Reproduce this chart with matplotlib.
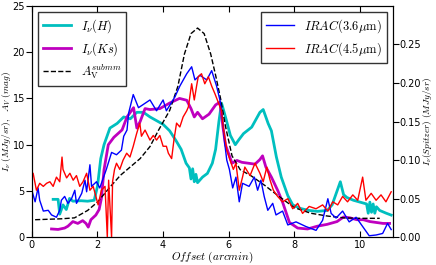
import numpy as np
import matplotlib
matplotlib.use('Agg')
import matplotlib.pyplot as plt

plt.rcParams['mathtext.fontset'] = 'cm'
plt.rcParams['font.family'] = 'DejaVu Sans'
plt.rcParams['font.size'] = 7

# I_nu(H), left axis (MJy/sr)
h_x = [0.65, 0.8, 0.85, 0.95, 1.05, 1.15, 1.25, 1.5, 1.7, 1.9, 2.0, 2.1, 2.2, 2.38, 2.6, 2.8,
       3.0, 3.2, 3.4, 3.6, 3.8, 4.0, 4.2, 4.4, 4.55, 4.7, 4.8, 4.85, 4.9, 4.95, 5.0, 5.05,
       5.2, 5.35, 5.5, 5.6, 5.7, 5.78, 5.9, 6.05, 6.2, 6.3, 6.45, 6.7, 6.95, 7.05, 7.2,
       7.3, 7.45, 7.6, 7.8, 7.95, 8.2, 8.45, 8.7, 9.0, 9.15, 9.3, 9.4, 9.5, 9.6, 9.8,
       10.0, 10.2, 10.25, 10.3, 10.35, 10.4, 10.45, 10.5, 10.6, 10.8, 10.95]
h_y = [4.1, 4.1, 2.5, 3.5, 3.0, 4.2, 3.9, 3.95, 3.9, 4.0, 5.5, 8.5, 10.0, 11.8, 12.3, 13.0,
       12.8, 13.5, 13.5, 13.0, 12.6, 12.2, 11.5, 10.4, 9.5, 8.0, 7.5, 6.3, 7.4, 6.0, 6.8, 5.9,
       6.5, 6.9, 8.0, 9.5, 12.5, 14.5, 13.0, 11.0, 10.0, 10.5, 11.2, 11.9, 13.5, 13.8, 12.3,
       11.5, 8.7, 6.5, 4.5, 3.5, 3.1, 2.9, 2.8, 2.9, 3.5, 5.0, 6.0, 4.6, 4.3, 4.0,
       3.8, 3.6, 2.6, 3.8, 2.7, 3.6, 2.6, 3.3, 2.9, 2.6, 2.4]

# I_nu(Ks), left axis (MJy/sr)
ks_x = [0.6, 0.8, 1.0, 1.1, 1.25, 1.4, 1.55, 1.65, 1.72, 1.8, 1.95, 2.05, 2.12, 2.2, 2.33,
        2.5, 2.75, 2.9, 3.1, 3.2, 3.3, 3.45, 3.6, 3.9, 4.2, 4.5, 4.72, 4.85, 4.95, 5.05,
        5.2, 5.4, 5.6, 5.73, 5.82, 5.9, 6.0, 6.1, 6.25, 6.4, 6.6, 6.8, 6.95, 7.03, 7.13,
        7.3, 7.5, 7.65, 7.85, 8.1, 8.4, 8.7, 9.0, 9.3, 9.5, 9.7, 9.9, 10.1, 10.3, 10.5,
        10.7, 10.9]
ks_y = [0.9, 0.85, 1.0, 1.2, 1.7, 1.5, 1.8, 1.5, 1.1, 1.9, 2.4, 3.0, 4.2, 7.3, 10.0,
        10.8, 11.6, 13.0, 14.0, 11.8, 12.5, 13.9, 13.8, 13.9, 14.5, 15.0, 14.8, 13.9, 13.0, 13.5,
        12.8, 13.3, 14.3, 14.6, 12.0, 10.0, 9.0, 8.0, 8.3, 8.1, 8.0, 7.9, 8.4, 8.8, 7.6,
        6.5, 5.0, 3.7, 1.6, 1.0, 0.9, 1.2, 1.4, 1.7, 2.2, 2.1, 1.9, 1.9, 1.7, 1.6,
        1.5, 1.5]

# A_V from submm (mag), left axis
av_x = [0.1, 0.5, 0.9, 1.3, 1.7, 2.0, 2.4, 2.7, 3.0, 3.3, 3.6, 3.85, 4.2, 4.45, 4.65, 4.85,
        5.05, 5.25, 5.45, 5.6, 5.75, 5.9, 6.1, 6.35, 6.7, 7.1, 7.5, 8.0, 8.5, 9.0, 9.5,
        10.0, 10.6]
av_y = [1.9, 1.95, 2.0, 2.1, 2.9, 3.8, 5.5, 6.7, 7.6, 8.5, 9.8, 11.5, 13.7, 16.3, 19.8, 22.0,
        22.6, 22.0, 19.8, 17.5, 15.0, 12.0, 8.8, 7.3, 6.6, 5.6, 4.5, 3.2, 2.6, 2.3, 2.1,
        2.05, 2.05]

# IRAC 3.6um, right axis (MJy/sr)
b_x = [0.0, 0.1, 0.19, 0.24, 0.35, 0.5, 0.6, 0.75, 0.85, 0.9, 1.0, 1.1, 1.21, 1.31, 1.36,
       1.52, 1.62, 1.67, 1.77, 1.82, 1.97, 2.07, 2.27, 2.43, 2.58, 2.73, 2.8, 2.9, 2.95,
       3.09, 3.25, 3.39, 3.6, 3.8, 4.0, 4.1, 4.36, 4.51, 4.72, 4.87, 4.97, 5.12, 5.33,
       5.48, 5.63, 5.73, 5.78, 5.88, 5.94, 6.02, 6.12, 6.22, 6.32, 6.42, 6.62, 6.78, 6.88,
       6.98, 7.08, 7.19, 7.34, 7.44, 7.64, 7.8, 8.05, 8.35, 8.66, 8.86, 9.02, 9.12, 9.27,
       9.47, 9.67, 9.88, 10.08, 10.28, 10.49, 10.69, 10.84, 10.95]
b_y = [0.061, 0.046, 0.064, 0.048, 0.034, 0.035, 0.029, 0.026, 0.035, 0.048, 0.053, 0.044,
       0.050, 0.061, 0.044, 0.057, 0.074, 0.059, 0.094, 0.066, 0.072, 0.064, 0.088, 0.110,
       0.107, 0.113, 0.131, 0.139, 0.161, 0.185, 0.168, 0.172, 0.178, 0.164, 0.178, 0.164,
       0.182, 0.196, 0.212, 0.221, 0.204, 0.210, 0.204, 0.216, 0.196, 0.178, 0.164, 0.121,
       0.100, 0.088, 0.064, 0.078, 0.046, 0.070, 0.066, 0.078, 0.061, 0.074, 0.053, 0.035,
       0.044, 0.029, 0.034, 0.016, 0.020, 0.014, 0.009, 0.022, 0.050, 0.031, 0.025, 0.034,
       0.020, 0.026, 0.014, 0.002, 0.003, 0.005, 0.018, 0.010]

# IRAC 4.5um, right axis (MJy/sr)
r_x = [0.0, 0.04, 0.14, 0.24, 0.35, 0.45, 0.55, 0.65, 0.75, 0.85, 0.92, 0.95, 1.06, 1.16,
       1.26, 1.36, 1.46, 1.56, 1.67, 1.77, 1.87, 1.97, 2.02, 2.12, 2.23, 2.3, 2.34, 2.43,
       2.46, 2.52, 2.58, 2.68, 2.78, 2.89, 2.99, 3.09, 3.19, 3.29, 3.34, 3.45, 3.6, 3.7,
       3.8, 3.9, 4.0, 4.1, 4.16, 4.26, 4.33, 4.41, 4.51, 4.61, 4.72, 4.77, 4.87, 4.95, 5.02,
       5.07, 5.12, 5.17, 5.27, 5.38, 5.48, 5.58, 5.68, 5.78, 5.83, 5.94, 6.04, 6.14, 6.22,
       6.32, 6.42, 6.49, 6.65, 6.8, 6.95, 7.05, 7.16, 7.26, 7.36, 7.49, 7.64, 7.8, 7.95,
       8.1, 8.25, 8.45, 8.66, 8.86, 9.02, 9.17, 9.32, 9.47, 9.62, 9.78, 9.93, 10.08, 10.18,
       10.34, 10.49, 10.64, 10.79, 10.95]
r_y = [0.080, 0.083, 0.061, 0.070, 0.066, 0.070, 0.072, 0.066, 0.078, 0.072, 0.104, 0.088,
       0.077, 0.083, 0.074, 0.080, 0.066, 0.072, 0.083, 0.061, 0.066, 0.050, 0.042, 0.061,
       0.066, 0.0, 0.074, 0.0, 0.072, 0.088, 0.096, 0.088, 0.100, 0.109, 0.104, 0.118, 0.134,
       0.148, 0.131, 0.139, 0.126, 0.132, 0.126, 0.132, 0.118, 0.118, 0.109, 0.102, 0.126,
       0.148, 0.143, 0.156, 0.164, 0.169, 0.199, 0.178, 0.196, 0.208, 0.210, 0.212, 0.199,
       0.208, 0.196, 0.186, 0.175, 0.164, 0.143, 0.113, 0.100, 0.088, 0.096, 0.061, 0.078,
       0.091, 0.080, 0.096, 0.083, 0.072, 0.091, 0.074, 0.061, 0.053, 0.046, 0.050, 0.037,
       0.044, 0.031, 0.040, 0.037, 0.042, 0.034, 0.046, 0.042, 0.053, 0.046, 0.055, 0.048,
       0.078, 0.048, 0.057, 0.048, 0.055, 0.046, 0.059]

fig = plt.figure(figsize=(4.36, 2.65), dpi=100)
ax = fig.add_axes([0.073, 0.1045, 0.828, 0.8735])

ax.plot(h_x, h_y, color='c', lw=2, label=r'$I_\nu(H)$')
ax.plot(ks_x, ks_y, color='m', lw=2, label=r'$I_\nu(Ks)$')
ax.plot(av_x, av_y, 'k--', lw=1, label=r'$A_{\rm V}^{submm}$')
ax.set_xlim(0, 11)
ax.set_ylim(0, 25)
ax.set_xticks([0, 2, 4, 6, 8, 10])
ax.set_yticks([0, 5, 10, 15, 20, 25])
ax.tick_params(axis='x', direction='in', top=True, length=4, pad=2)
ax.tick_params(axis='y', direction='out', length=4, pad=1)
ax.set_xlabel(r'$Offset\ (arcmin)$', fontsize=8, labelpad=0)
ax.set_ylabel(r'$I_\nu\ (MJy/sr),\ \ A_V\ (mag)$', fontsize=6.8)
ax.yaxis.set_label_coords(-0.052, 0.5)
leg = ax.legend(loc='upper left', fontsize=9, fancybox=False, handlelength=2.2,
                borderaxespad=0.5, labelspacing=0.4)
leg.get_frame().set_edgecolor('k')

ax2 = ax.twinx()
ax2.plot(b_x, b_y, color='b', lw=1, label=r'$IRAC(3.6\mu{\rm m})$')
ax2.plot(r_x, r_y, color='r', lw=1, label=r'$IRAC(4.5\mu{\rm m})$')
ax2.set_ylim(0, 0.3)
ax2.set_yticks([0.0, 0.05, 0.10, 0.15, 0.20, 0.25])
ax2.set_yticklabels(['0.00', '0.05', '0.10', '0.15', '0.20', '0.25'])
ax2.tick_params(axis='y', direction='out', length=4, pad=1)
ax2.set_ylabel(r'$I_\nu(Spitzer)\ (MJy/sr)$', fontsize=6.8)
ax2.yaxis.set_label_coords(1.078, 0.5)
leg2 = ax2.legend(loc='upper right', fontsize=9, fancybox=False, handlelength=2.2,
                  borderaxespad=0.5, labelspacing=0.4)
leg2.get_frame().set_edgecolor('k')

fig.savefig('out.png', dpi=100)
